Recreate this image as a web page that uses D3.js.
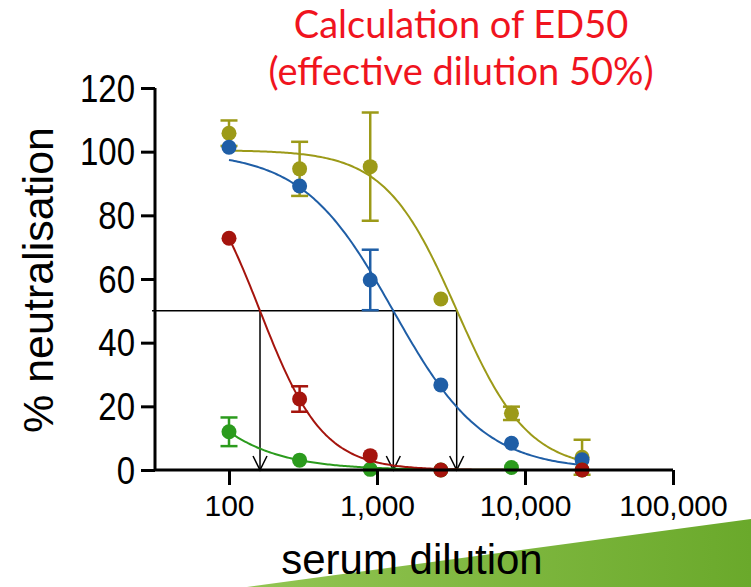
<!DOCTYPE html>
<html>
<head>
<meta charset="utf-8">
<script src="https://cdn.jsdelivr.net/npm/d3@7/dist/d3.min.js"></script>
<style>
  html, body { margin: 0; padding: 0; background: #fff; }
  svg { display: block; }
</style>
</head>
<body>
<svg id="chart" width="751" height="587"></svg>
<script>
// ---- data ----
const dilutions = [100, 300, 900, 2700, 8100, 24300];
const seriesNames = ["olive", "blue", "green", "red"];
const oliveValues = [105.8, 94.6, 95.3, 53.7, 17.8, 4];
const oliveErrors = [4, 8.5, 17, 1, 2.1, 5.5];
const blueValues = [101.4, 89.2, 59.7, 26.7, 8.4, 3.2];
const blueErrors = [1, 1, 9.5, 0.5, 0.5, 0.5];
const greenValues = [12.0, 3.1, 0.2, 0, 0.8, 0];
const greenErrors = [4.5, 0.5, 0.3, 0, 0.3, 0];
const redValues = [72.8, 22.3, 4.5, 0, null, 0];
const redErrors = [0.5, 4, 0.5, 0, 0, 0];
// fitted curve parameters (top, bottom, ED50, hill)
const fitTop = [100.5, 100, 100, 100];
const fitBottom = [0, 0, 0, 0];
const fitED50 = [3455, 1289, 22.1, 162];
const fitHill = [1.8, 1.417, 1.321, 2.04];
// ED50 markers drawn (red, blue, olive)
const ed50Markers = [162, 1289, 3455];
const yTicks = [0, 20, 40, 60, 80, 100, 120];
const xTicks = [100, 1000, 10000, 100000];
const xTickLabels = ["100", "1,000", "10,000", "100,000"];
const titleLines = ["Calculation of ED50", "(effective dilution 50%)"];
const yLabel = "% neutralisation";
const xLabel = "serum dilution";
const colors = ["#9c9a18", "#1f5ea6", "#2b9b1d", "#a5140d"];

const values = [oliveValues, blueValues, greenValues, redValues];
const errors = [oliveErrors, blueErrors, greenErrors, redErrors];

const svg = d3.select("#chart");

// background green wedge
const defs = svg.append("defs");
const grad = defs.append("linearGradient").attr("id", "gw").attr("x1", "0").attr("x2", "1").attr("y1", "0").attr("y2", "0");
grad.append("stop").attr("offset", "0").attr("stop-color", "#93c553");
grad.append("stop").attr("offset", "1").attr("stop-color", "#6aa92b");
svg.append("polygon")
  .attr("points", "247,587 751,519 751,587")
  .attr("fill", "url(#gw)");

const x = d3.scaleLog().domain([Math.pow(10, 1.5), 100000]).range([155, 673]);
const y = d3.scaleLinear().domain([0, 120]).range([470, 88]);

const axisFont = "'Liberation Sans', Arial, Helvetica, sans-serif";

// ED50 guide lines
const g50 = svg.append("g").attr("stroke", "#000").attr("stroke-width", 1.5).attr("fill", "none");
g50.append("line")
  .attr("x1", x.range()[0] - 3).attr("x2", x(d3.max(ed50Markers)))
  .attr("y1", y(50)).attr("y2", y(50));
ed50Markers.forEach(v => {
  const xx = x(v);
  g50.append("line").attr("x1", xx).attr("x2", xx).attr("y1", y(50)).attr("y2", y(0));
  g50.append("path").attr("d", `M${xx - 7},${y(0) - 14}L${xx},${y(0)}L${xx + 7},${y(0) - 14}`);
});

// curves
const curveX = d3.range(0, 201).map(i => Math.pow(10, Math.log10(dilutions[0]) + i * (Math.log10(dilutions[dilutions.length - 1]) - Math.log10(dilutions[0])) / 200));
const line = d3.line().x(d => x(d[0])).y(d => y(d[1]));
seriesNames.forEach((name, si) => {
  const pts = curveX.map(d => [d, fitBottom[si] + (fitTop[si] - fitBottom[si]) / (1 + Math.pow(d / fitED50[si], fitHill[si]))]);
  svg.append("path").datum(pts)
    .attr("d", line)
    .attr("fill", "none")
    .attr("stroke", colors[si])
    .attr("stroke-width", 2);
});

// error bars and points
seriesNames.forEach((name, si) => {
  const g = svg.append("g").attr("class", name);
  dilutions.forEach((d, i) => {
    const v = values[si][i];
    if (v === null) return;
    const e = errors[si][i];
    if (e > 1.5) {
      const xx = x(d);
      g.append("line").attr("x1", xx).attr("x2", xx).attr("y1", y(v + e)).attr("y2", y(v - e))
        .attr("stroke", colors[si]).attr("stroke-width", 2.5);
      [v + e, v - e].forEach(t => {
        g.append("line").attr("x1", xx - 8.5).attr("x2", xx + 8.5).attr("y1", y(t)).attr("y2", y(t))
          .attr("stroke", colors[si]).attr("stroke-width", 2.5);
      });
    }
    g.append("circle").attr("cx", x(d)).attr("cy", y(v)).attr("r", 7.5).attr("fill", colors[si]);
  });
});

// axes
const yAxis = svg.append("g").attr("transform", `translate(${x.range()[0]},0)`)
  .call(d3.axisLeft(y).tickValues(yTicks).tickSize(14).tickPadding(6).tickFormat(d3.format("d")));
const xAxis = svg.append("g").attr("transform", `translate(0,${y(0)})`)
  .call(d3.axisBottom(x).tickValues(xTicks).tickSize(15).tickPadding(10).tickFormat((d, i) => xTickLabels[i]));
[yAxis, xAxis].forEach(a => {
  a.select(".domain").attr("stroke", "#000").attr("stroke-width", 3);
  a.selectAll(".tick line").attr("stroke", "#000").attr("stroke-width", 3);
  a.selectAll("text").attr("fill", "#000").style("font-family", axisFont);
});
yAxis.select(".domain").attr("d", `M0,${y(120)}V${y(0)}`);
xAxis.select(".domain").attr("d", `M${x.range()[0]},0H${x.range()[1]}`);
yAxis.selectAll("text").style("font-size", "33px").attr("transform", "scale(1,1.2)").attr("dy", "0.33em");
xAxis.selectAll("text").style("font-size", "30px");

// axis titles
svg.append("text")
  .attr("transform", `translate(53,280) rotate(-90)`)
  .attr("text-anchor", "middle")
  .style("font-family", axisFont).style("font-size", "43px").attr("fill", "#000")
  .text(yLabel);
svg.append("text")
  .attr("x", 412).attr("y", 574)
  .attr("text-anchor", "middle")
  .style("font-family", axisFont).style("font-size", "42px").attr("fill", "#000")
  .text(xLabel);

// title
titleLines.forEach((t, i) => {
  svg.append("text")
    .attr("x", 461).attr("y", 38 + i * 47)
    .attr("text-anchor", "middle")
    .style("font-family", "Lato, 'Open Sans', sans-serif").style("font-size", "38px")
    .attr("fill", "#f0141e")
    .text(t);
});
</script>
</body>
</html>
